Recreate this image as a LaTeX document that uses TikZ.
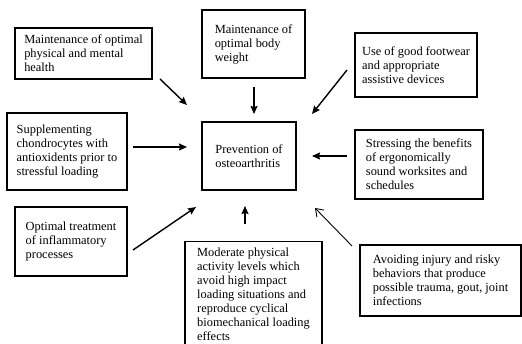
\documentclass[tikz,border=0pt]{standalone}
\usepackage{fontspec}
\setmainfont{Liberation Serif}
\usetikzlibrary{arrows.meta}

\begin{document}
\begin{tikzpicture}[x=1pt, y=-1pt, every node/.style={font=\fontsize{12.4}{14}\selectfont},
    box/.style={draw, line width=1.4pt, rectangle, align=left, inner sep=0pt},
    arr/.style={line width=1.4pt, -{Stealth[length=8pt, width=7pt, inset=1pt]}},
    thinarr/.style={line width=0.9pt, -{Straight Barb[length=7pt, width=10pt]}}]
    \useasboundingbox (0,0) rectangle (522,344);

    \node[box, minimum width=137pt, minimum height=51pt] (health) at (83.5,53.5)
        {Maintenance of optimal\\physical and mental\\health};
    \node[box, minimum width=103pt, minimum height=68pt] (weight) at (253.5,44)
        {Maintenance of\\optimal body\\weight};
    \node[box, minimum width=122pt, minimum height=64pt] (footwear) at (416,65)
        {Use of good footwear\\and appropriate\\assistive devices};
    \node[box, minimum width=120pt, minimum height=77pt] (chondro) at (67,151.5)
        {Supplementing\\chondrocytes with\\antioxidents prior to\\stressful loading};
    \node[box, minimum width=94pt, minimum height=68pt] (prev) at (249,156)
        {Prevention of\\osteoarthritis};
    \node[box, minimum width=128pt, minimum height=69pt] (ergo) at (419,164.5)
        {Stressing the benefits\\of ergonomically\\sound worksites and\\schedules};
    \node[box, minimum width=112pt, minimum height=69pt] (inflam) at (71,241.5)
        {Optimal treatment\\of inflammatory\\processes};
    \node[box, anchor=north, minimum width=137pt, inner ysep=6pt] (activity) at (253.5,241)
        {Moderate physical\\activity levels which\\avoid high impact\\loading situations and\\reproduce cyclical\\biomechanical loading\\effects};
    \node[box, minimum width=161pt, minimum height=71pt] (injury) at (440.5,280.5)
        {Avoiding injury and risky\\behaviors that produce\\possible trauma, gout, joint\\infections};

    \coordinate (t1) at (160,79);   \coordinate (h1) at (187,105);
    \coordinate (t2) at (254,87);   \coordinate (h2) at (254,114);
    \coordinate (t3) at (347,70);   \coordinate (h3) at (312,114);
    \coordinate (t4) at (133,147);  \coordinate (h4) at (187,147);
    \coordinate (t5) at (347,156);  \coordinate (h5) at (312,156);
    \coordinate (t6) at (133,250);  \coordinate (h6) at (196,207);
    \coordinate (t7) at (245,224);  \coordinate (h7) at (245,206);
    \coordinate (t8) at (352,246);  \coordinate (h8) at (315,208);

    \foreach \i in {1,...,7}
        \draw[arr] (t\i) -- (h\i);
    \draw[thinarr] (t8) -- (h8);
\end{tikzpicture}
\end{document}
